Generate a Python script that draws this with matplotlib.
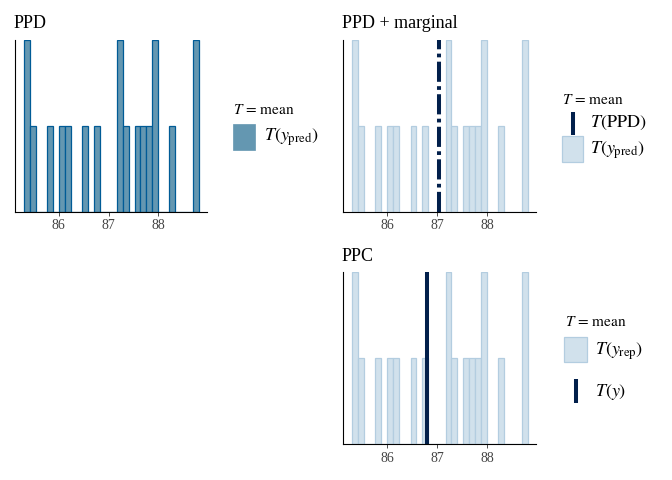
import numpy as np
import matplotlib.pyplot as plt
from matplotlib.patches import Rectangle
from matplotlib.transforms import ScaledTranslation

plt.rcParams['font.family'] = ['Liberation Serif', 'DejaVu Serif']
plt.rcParams['mathtext.fontset'] = 'stix'

# mean of y_pred for each posterior draw
t_ypred = [85.36, 85.39, 85.47, 85.83, 86.05, 86.19, 86.53, 86.77,
           87.21, 87.25, 87.35, 87.58, 87.70, 87.81, 87.92, 87.95,
           88.28, 88.73, 88.75]
t_ppd = 87.03   # mean of the marginal PPD
t_y = 86.80     # observed mean
n_bins = 30
xticks = [86, 87, 88]
titles = ["PPD", "PPD + marginal", "PPC"]

# bayesplot "blue" scheme
light, light_hl = "#d1e1ec", "#b3cde0"
mid, mid_hl = "#6497b1", "#005b96"
dark_hl = "#011f4b"

W, H = 672, 480
fig = plt.figure(figsize=(W / 100, H / 100), dpi=100)


def px_axes(left, top, right, bottom):
    return fig.add_axes([left / W, 1 - bottom / H, (right - left) / W, (bottom - top) / H])


# ggplot style bins: first and last bin centred on min and max
lo, hi = min(t_ypred), max(t_ypred)
bw = (hi - lo) / (n_bins - 1)
edges = np.linspace(lo - bw / 2, hi + bw / 2, n_bins + 1)
counts, _ = np.histogram(t_ypred, bins=edges)
pad = 0.05 * (edges[-1] - edges[0])
xlim = (edges[0] - pad, edges[-1] + pad)


def style(ax, title):
    ax.set_xlim(xlim)
    ax.set_ylim(0, counts.max())
    ax.set_yticks([])
    ax.set_xticks(xticks)
    ax.set_xticklabels([str(t) for t in xticks])
    for s in ('top', 'right'):
        ax.spines[s].set_visible(False)
    for s in ('left', 'bottom'):
        ax.spines[s].set_linewidth(0.8)
    ax.tick_params(axis='x', length=3, width=0.6, color='#333333',
                   labelsize=10, labelcolor='#444444', pad=2.5)
    # title sits a fixed pixel gap above the panel
    off = ScaledTranslation(-1.5 / 100, 11.7 / 100, fig.dpi_scale_trans)
    ax.text(0, 1.0, title, transform=ax.transAxes + off, fontsize=13,
            ha='left', va='baseline')


# PPD
ax1 = px_axes(15.3, 40, 207.3, 211.5)
ax1.hist(t_ypred, bins=edges, color=mid, edgecolor=mid_hl, linewidth=0.9)
style(ax1, titles[0])

# PPD + marginal
ax2 = px_axes(343.3, 40, 536.3, 211.5)
ax2.hist(t_ypred, bins=edges, color=light, edgecolor=light_hl, linewidth=0.9)
ax2.axvline(t_ppd, color=dark_hl, linewidth=2.9,
            linestyle=(0, (5.0, 1.08, 0.92, 1.08)))
style(ax2, titles[1])

# PPC
ax3 = px_axes(343.3, 272.3, 536.3, 444)
ax3.hist(t_ypred, bins=edges, color=light, edgecolor=light_hl, linewidth=0.9)
ax3.axvline(t_y, color=dark_hl, linewidth=2.9)
style(ax3, titles[2])

# legends, drawn on an overlay in pixel units
ov = fig.add_axes([0, 0, 1, 1])
ov.set_xlim(0, W)
ov.set_ylim(H, 0)
ov.axis('off')

lab_title = r"$T\,=\,\mathrm{mean}$"
lab_pred = r"$T\left(y_{\mathrm{pred}}\right)$"
lab_rep = r"$T\left(y_{\mathrm{rep}}\right)$"
lab_ppd = r"$T\left(\mathrm{PPD}\right)$"
lab_y = r"$T\left(y\right)$"
tsize, lsize = 11, 13

# legend 1
ov.text(233, 110, lab_title, fontsize=tsize, va='center')
ov.add_patch(Rectangle((232.7, 124), 22.3, 26, facecolor=mid, edgecolor=mid, lw=0.5))
ov.text(264, 137, lab_pred, fontsize=lsize, va='center')

# legend 2
ov.text(561.7, 100, lab_title, fontsize=tsize, va='center')
ov.plot([572.5, 572.5], [111.7, 135], color=dark_hl, lw=2.9, solid_capstyle='butt')
ov.text(590, 122.7, lab_ppd, fontsize=lsize, va='center')
ov.add_patch(Rectangle((561.7, 135.7), 21.6, 26.6, facecolor=light, edgecolor=light_hl, lw=0.9))
ov.text(590, 150, lab_pred, fontsize=lsize, va='center')

# legend 3
ov.text(565, 322, lab_title, fontsize=tsize, va='center')
ov.add_patch(Rectangle((564.3, 337.3), 22.4, 24.4, facecolor=light, edgecolor=light_hl, lw=0.9))
ov.text(595, 351.7, lab_rep, fontsize=lsize, va='center')
ov.plot([575.5, 575.5], [379, 403], color=dark_hl, lw=2.9, solid_capstyle='butt')
ov.text(595, 392, lab_y, fontsize=lsize, va='center')

fig.savefig("out.png", dpi=100)
